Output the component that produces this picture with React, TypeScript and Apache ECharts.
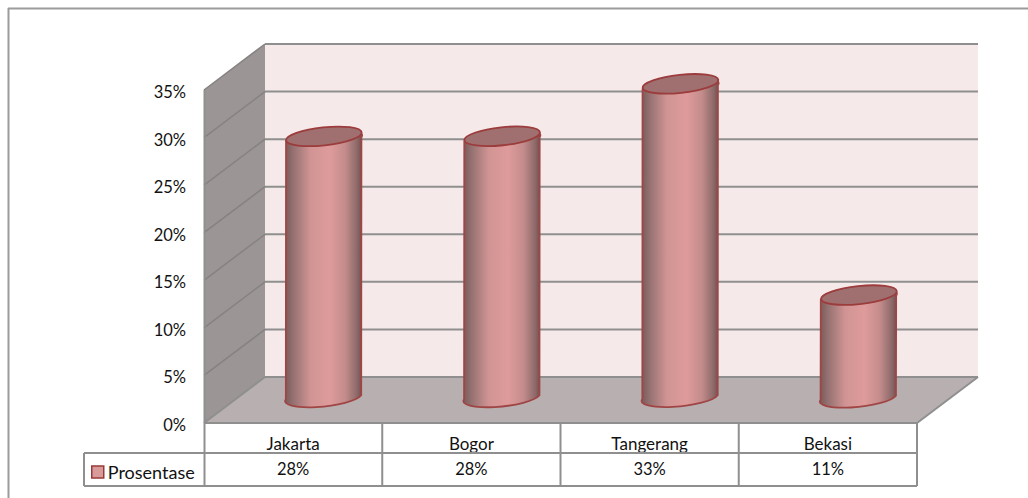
import React, { useEffect, useRef } from "react";
import * as echarts from "echarts";

const categories = ["Jakarta", "Bogor", "Tangerang", "Bekasi"];
const seriesName = "Prosentase";
const values = [0.277, 0.277, 0.332, 0.11];
const tableLabels = ["28%", "28%", "33%", "11%"];
const yTicks = [0, 0.05, 0.1, 0.15, 0.2, 0.25, 0.3, 0.35];

const FONT = "Lato";
const GRID = "#8f8f8f";

export default function App() {
  const ref = useRef<HTMLDivElement>(null);
  useEffect(() => {
    document.body.style.margin = "0";
    const chart = echarts.init(ref.current!, null, { renderer: "svg" });
    const DX = 61;
    const DY = -46;
    const line = (x1: number, y1: number, x2: number, y2: number, w = 2, c = GRID) => ({
      type: "line",
      shape: { x1, y1, x2, y2 },
      style: { stroke: c, lineWidth: w },
      silent: true,
    });
    const poly = (points: number[][], fill: string) => ({
      type: "polygon",
      shape: { points },
      style: { fill, stroke: null },
      silent: true,
    });

    chart.setOption({
      animation: false,
      backgroundColor: "#ffffff",
      textStyle: { fontFamily: FONT },
      grid: { left: 204, top: 90, width: 713, height: 333, containLabel: false },
      legend: {
        left: 91,
        top: 463,
        itemWidth: 12,
        itemHeight: 12,
        itemGap: 0,
        padding: 0,
        textStyle: { fontFamily: FONT, fontSize: 18, color: "#111111", padding: [0, 0, 0, -1] },
        data: [
          {
            name: seriesName,
            icon: "rect",
            itemStyle: { color: "#d99a9a", borderColor: "#983a3a", borderWidth: 1.5 },
          },
        ],
      },
      xAxis: [
        {
          type: "category",
          data: categories,
          position: "bottom",
          axisLine: { show: false },
          axisTick: { show: false },
          axisLabel: { fontFamily: FONT, fontSize: 17, color: "#111111", margin: 12 },
        },
        {
          type: "category",
          data: tableLabels,
          position: "bottom",
          offset: 30,
          axisLine: { show: false },
          axisTick: { show: false },
          axisLabel: { fontFamily: FONT, fontSize: 16.5, color: "#111111", margin: 7 },
        },
      ],
      yAxis: {
        type: "value",
        min: 0,
        max: 0.35,
        interval: 0.05,
        axisLine: { show: false },
        axisTick: { show: false },
        splitLine: { show: false },
        axisLabel: {
          margin: 18,
          formatter: (v: number) => `{v|${Math.round(v * 100)}%}`,
          rich: {
            v: { fontFamily: FONT, fontSize: 16.5, color: "#111111", padding: [4, 0, 0, 0] },
          },
        },
      },
      series: [
        {
          type: "custom",
          name: "walls",
          coordinateSystem: "cartesian2d",
          silent: true,
          z: 1,
          data: [[0, 0]],
          renderItem: (params: any, api: any) => {
            const cs = params.coordSys;
            const L = cs.x;
            const R = cs.x + cs.width;
            const B = api.coord([0, 0])[1];
            const T = api.coord([0, 0.35])[1];
            const children: any[] = [
              poly([[L + DX, T + DY], [R + DX, T + DY], [R + DX, B + DY], [L + DX, B + DY]], "#f5e9e9"),
              poly([[L, T], [L + DX, T + DY], [L + DX, B + DY], [L, B]], "#9b9595"),
              poly([[L, B], [L + DX, B + DY], [R + DX, B + DY], [R, B]], "#b8b0b0"),
            ];
            yTicks.forEach((t) => {
              const y = api.coord([0, t])[1];
              children.push(line(L + DX, y + DY, R + DX, y + DY));
              children.push(line(L, y, L + DX, y + DY, t === 0 ? 2 : 1.5, t === 0 ? GRID : "#868282"));
            });
            children.push(line(L + 0.5, T, L + 0.5, B + 63, 2));
            children.push(line(R, B, R + DX, B + DY));
            children.push(line(L, B, R, B));
            // data table
            const rowA = B + 30;
            const rowB = B + 63;
            const legendLeft = 84;
            children.push(line(legendLeft, rowA, R, rowA, 2));
            children.push(line(legendLeft, rowB, R, rowB, 2));
            children.push(line(legendLeft, rowA, legendLeft, rowB, 2));
            categories.forEach((_, i) => {
              const x = L + (cs.width * (i + 1)) / categories.length;
              children.push(line(x, B, x, rowB, 2));
            });
            // chart area outline (left and top only)
            children.push(line(8.5, 8, 8.5, 498, 2, "#9c9c9c"));
            children.push(line(8, 8.5, 1028, 8.5, 2, "#9c9c9c"));
            return { type: "group", children };
          },
        },
        {
          type: "custom",
          name: seriesName,
          coordinateSystem: "cartesian2d",
          z: 3,
          encode: { x: 0, y: 1 },
          data: values.map((v, i) => [i, v]),
          renderItem: (_params: any, api: any) => {
            const px = api.coord([api.value(0), api.value(1)]);
            const base = api.coord([api.value(0), 0]);
            const cx = px[0] + DX / 2;
            const topY = px[1] + DY / 2;
            const botY = base[1] + DY / 2;
            const a = 38;
            const b = 9;
            const rot = -6;
            const dx = a * Math.cos((rot * Math.PI) / 180);
            const dy = a * Math.sin((rot * Math.PI) / 180);
            const d =
              `M${cx - dx} ${topY - dy}` +
              `A${a} ${b} ${rot} 0 1 ${cx + dx} ${topY + dy}` +
              `L${cx + dx} ${botY + dy}` +
              `A${a} ${b} ${rot} 0 1 ${cx - dx} ${botY - dy}Z`;
            return {
              type: "group",
              children: [
                {
                  type: "path",
                  shape: { pathData: d, layout: "center", x: cx - dx, y: topY - b - 1, width: 2 * dx, height: botY - topY + 2 * b + 2 },
                  style: {
                    fill: new echarts.graphic.LinearGradient(0, 0, 1, 0, [
                      { offset: 0, color: "#7a5a5a" },
                      { offset: 0.1, color: "#947070" },
                      { offset: 0.33, color: "#d19494" },
                      { offset: 0.58, color: "#df9b9b" },
                      { offset: 0.78, color: "#c48c8c" },
                      { offset: 0.93, color: "#8f6a6a" },
                      { offset: 1, color: "#6f5050" },
                    ]),
                    stroke: "#a04545",
                    lineWidth: 1.8,
                  },
                },
                {
                  type: "ellipse",
                  shape: { cx, cy: topY, rx: a, ry: b },
                  rotation: (-rot * Math.PI) / 180,
                  originX: cx,
                  originY: topY,
                  style: { fill: "#a06f6f", stroke: "#9c3c3c", lineWidth: 1.8 },
                },
              ],
            };
          },
        },
      ],
    });
    return () => chart.dispose();
  }, []);
  return <div ref={ref} style={{ position: "absolute", left: 0, top: 0, width: 1028, height: 498 }} />;
}
